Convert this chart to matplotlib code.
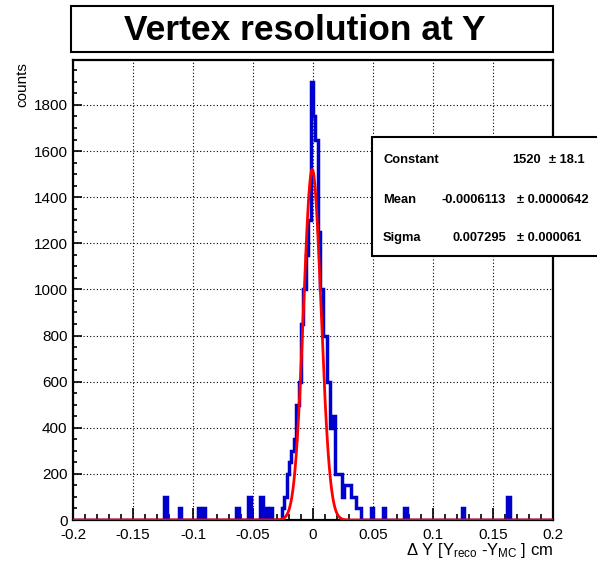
import numpy as np
import matplotlib
matplotlib.use("Agg")
import matplotlib.pyplot as plt
from matplotlib.patches import Rectangle
from matplotlib.ticker import MultipleLocator, FormatStrFormatter

plt.rcParams['font.family'] = ['Liberation Sans', 'DejaVu Sans']
plt.rcParams['mathtext.fontset'] = 'custom'
plt.rcParams['mathtext.rm'] = 'Liberation Sans'
plt.rcParams['mathtext.it'] = 'Liberation Sans:italic'
plt.rcParams['mathtext.bf'] = 'Liberation Sans:bold'

# histogram binning
x_min, x_max, n_bins = -0.2, 0.2, 200

# filled bins (bin centre, entries); every other bin is empty
bin_centers = [-0.123, -0.111, -0.095, -0.091, -0.063, -0.053, -0.043, -0.039, -0.035,
               -0.025, -0.023, -0.021, -0.019, -0.017, -0.015, -0.013, -0.011, -0.009,
               -0.007, -0.005, -0.003, -0.001, 0.001, 0.003, 0.005, 0.007, 0.009,
               0.011, 0.013, 0.015, 0.017, 0.019, 0.021, 0.023, 0.025, 0.027,
               0.029, 0.031, 0.033, 0.035, 0.037, 0.039,
               0.049, 0.059, 0.077, 0.125, 0.163]
bin_counts = [100, 50, 50, 50, 50, 100, 100, 50, 50,
              50, 100, 200, 250, 300, 350, 500, 600, 850,
              1000, 1150, 1300, 1900, 1750, 1650, 1250, 1000, 800,
              800, 600, 400, 450, 200, 200, 200, 100, 150,
              150, 150, 100, 100, 50, 50,
              50, 50, 50, 50, 100]

# gaussian fit result
fit_constant, fit_constant_err = 1520, 18.1
fit_mean, fit_mean_err = -0.0006113, 0.0000642
fit_sigma, fit_sigma_err = 0.007295, 0.000061

title = "Vertex resolution at Y"
x_title = r'$\Delta$ Y [Y$_{\mathrm{reco}}$ -Y$_{\mathrm{MC}}$ ] cm'
y_title = "counts"

W, H = 597, 570
fig = plt.figure(figsize=(W / 100, H / 100), dpi=100)

def fx(px):
    return px / W

def fy(py):
    return 1 - py / H

# build the binned histogram
edges = np.linspace(x_min, x_max, n_bins + 1)
width = (x_max - x_min) / n_bins
values = np.zeros(n_bins)
idx = np.round((np.array(bin_centers) - x_min) / width - 0.5).astype(int)
values[idx] = bin_counts

ax = fig.add_axes([fx(73), fy(520), fx(553) - fx(73), fy(60) - fy(520)])
ax.stairs(values, edges, color='#0000cc', linewidth=2.5, baseline=0, zorder=3)

xf = np.linspace(x_min, x_max, 2000)
yf = fit_constant * np.exp(-0.5 * ((xf - fit_mean) / fit_sigma) ** 2)
ax.plot(xf, yf, color='#ff0000', linewidth=2.0, zorder=4)

ax.set_xlim(x_min, x_max)
ax.set_ylim(0, max(bin_counts) * 1.05)

ax.xaxis.set_major_locator(MultipleLocator(0.05))
ax.xaxis.set_minor_locator(MultipleLocator(0.01))
ax.yaxis.set_major_locator(MultipleLocator(200))
ax.yaxis.set_minor_locator(MultipleLocator(50))
ax.xaxis.set_major_formatter(FormatStrFormatter('%g'))
ax.yaxis.set_major_formatter(FormatStrFormatter('%g'))

ax.tick_params(axis='x', which='major', direction='in', length=8.6, width=1.2,
               labelsize=11, pad=5.5, top=False)
ax.tick_params(axis='x', which='minor', direction='in', length=4.3, width=1.2, top=False)
ax.tick_params(axis='y', which='major', direction='in', length=6.5, width=1.2,
               labelsize=11, pad=4, right=False)
ax.tick_params(axis='y', which='minor', direction='in', length=3.2, width=1.2, right=False)

ax.grid(True, which='major', color='black', linestyle=(0, (1, 2)), linewidth=0.8)
ax.set_axisbelow(True)
for s in ax.spines.values():
    s.set_linewidth(1.6)

# title box
fig.patches.append(Rectangle((fx(71), fy(52)), fx(553) - fx(71), fy(6) - fy(52),
                             transform=fig.transFigure, facecolor='white',
                             edgecolor='black', linewidth=1.5))
fig.text(fx(305), fy(30), title, ha='center', va='center', fontsize=25.5,
         fontweight='bold')

# axis titles
fig.text(fx(22), fy(62), y_title, rotation=90, ha='center', va='top', fontsize=11)
fig.text(fx(553), fy(550), x_title, ha='right', va='center', fontsize=12)

# fit statistics box
fig.patches.append(Rectangle((fx(372), fy(256)), 1.0, fy(137) - fy(256),
                             transform=fig.transFigure, facecolor='white',
                             edgecolor='black', linewidth=1.5, zorder=5))
stat_kw = dict(fontsize=9.3, fontweight='bold', va='center', zorder=6)
rows = [
    ("Constant", f"{fit_constant:g}", f"\u00b1 {fit_constant_err:g}", 160, 541, 549),
    ("Mean", f"{fit_mean:.7f}", f"\u00b1 {fit_mean_err:.7f}", 200, 506, 517),
    ("Sigma", f"{fit_sigma:g}", f"\u00b1 {fit_sigma_err:.6f}", 238, 506, 517),
]
for name, val, err, py, vx, ex in rows:
    fig.text(fx(383), fy(py), name, ha='left', **stat_kw)
    fig.text(fx(vx), fy(py), val, ha='right', **stat_kw)
    fig.text(fx(ex), fy(py), err, ha='left', **stat_kw)

fig.savefig("out.png", dpi=100)
